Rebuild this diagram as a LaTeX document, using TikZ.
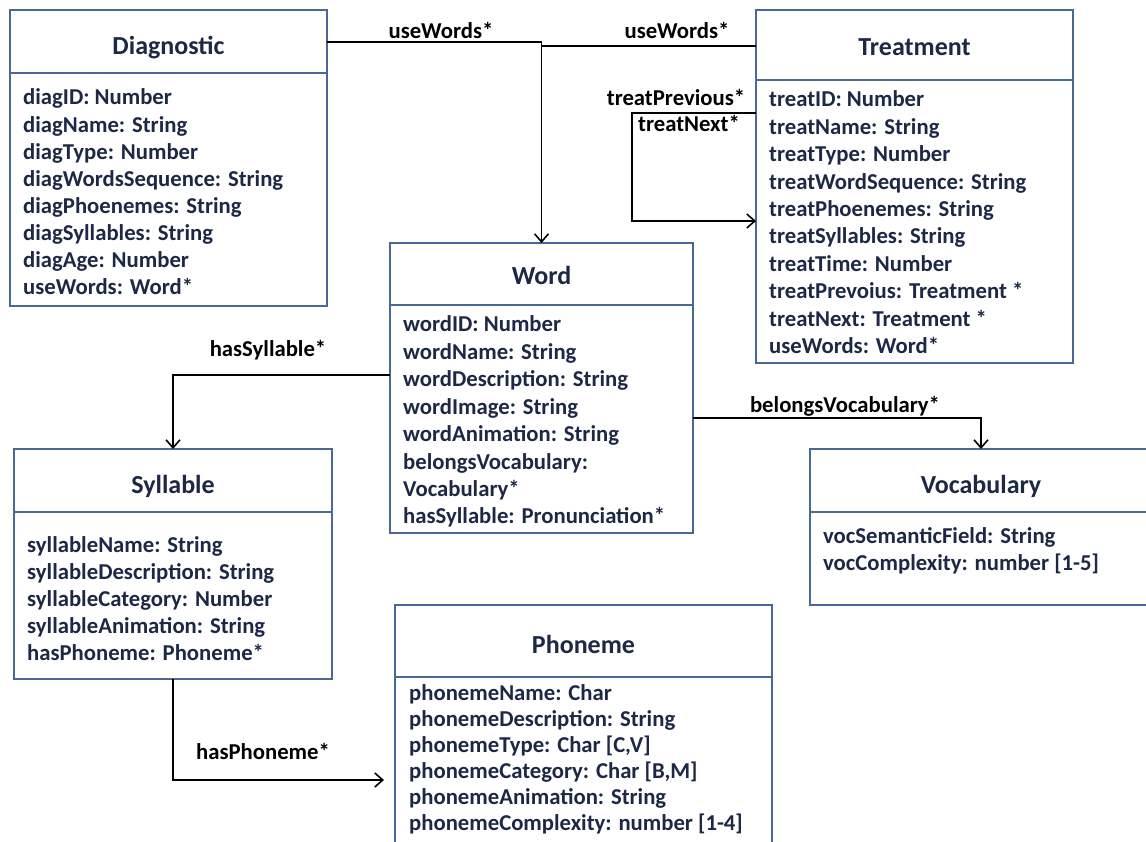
\documentclass[tikz,border=0pt]{standalone}
\usepackage{fontspec}
\setmainfont{Carlito}
\usetikzlibrary{arrows.meta,calc}
\definecolor{boxblue}{RGB}{74,104,148}
\definecolor{inkblue}{RGB}{28,40,70}
\begin{document}
\begin{tikzpicture}[x=1pt,y=-1pt,
  classbox/.style={draw=boxblue,line width=2.2pt,inner sep=0pt,outer sep=0pt,anchor=north west},
  divider/.style={draw=boxblue,line width=2.2pt},
  classtitle/.style={font=\bfseries\fontsize{26}{30}\selectfont,text=inkblue,anchor=base,inner sep=0pt},
  attr/.style={font=\bfseries\fontsize{22.7}{27}\selectfont,text=inkblue,anchor=base west,inner sep=0pt},
  assoc/.style={draw=black,line width=1.2pt},
  navarrow/.style={-{Straight Barb[length=8pt,width=14pt,line width=1.6pt]}},
  rolelabel/.style={font=\bfseries\fontsize{22.7}{27}\selectfont,text=black,inner sep=0pt,anchor=base}
]
\useasboundingbox (0,0) rectangle (1146,842);
\clip (0,0) rectangle (1146,842);
\fill[white] (0,0) rectangle (1146,842);

% ---------- Diagnostic ----------
\node[classbox,minimum width=317pt,minimum height=296pt] (diag) at (10,10) {};
\draw[divider] ($(diag.north west)+(0,63)$) -- ($(diag.north east)+(0,63)$);
\node[classtitle] (diagTitle) at (168.5,55) {Diagnostic};
\foreach \a [count=\i] in {diagID: Number, diagName: String, diagType: Number,
  diagWordsSequence: String, diagPhoenemes: String, diagSyllables: String,
  diagAge: Number, useWords: Word*}
  \node[attr] (diag-\i) at (23,{105+(\i-1)*27.1}) {\a};

% ---------- Treatment ----------
\node[classbox,minimum width=317pt,minimum height=353pt] (treat) at (756,10) {};
\draw[divider] ($(treat.north west)+(0,70)$) -- ($(treat.north east)+(0,70)$);
\node[classtitle] (treatTitle) at (914.5,56) {Treatment};
\foreach \a [count=\i] in {treatID: Number, treatName: String, treatType: Number,
  treatWordSequence: String, treatPhoenemes: String, treatSyllables: String,
  treatTime: Number, treatPrevoius: Treatment *, treatNext: Treatment *,
  useWords: Word*}
  \node[attr] (treat-\i) at (769,{107+(\i-1)*27.4}) {\a};

% ---------- Word ----------
\node[classbox,minimum width=303pt,minimum height=290pt] (word) at (390,243) {};
\draw[divider] ($(word.north west)+(0,62)$) -- ($(word.north east)+(0,62)$);
\node[classtitle] (wordTitle) at (541.5,285) {Word};
\foreach \a [count=\i] in {wordID: Number, wordName: String, wordDescription: String,
  wordImage: String, wordAnimation: String, belongsVocabulary:, Vocabulary*,
  hasSyllable: Pronunciation*}
  \node[attr] (word-\i) at (403,{332+(\i-1)*27.4}) {\a};

% ---------- Syllable ----------
\node[classbox,minimum width=318pt,minimum height=230pt] (syl) at (14,449) {};
\draw[divider] ($(syl.north west)+(0,63)$) -- ($(syl.north east)+(0,63)$);
\node[classtitle] (sylTitle) at (173,493) {Syllable};
\foreach \a [count=\i] in {syllableName: String, syllableDescription: String,
  syllableCategory: Number, syllableAnimation: String, hasPhoneme: Phoneme*}
  \node[attr] (syl-\i) at (27,{552+(\i-1)*27}) {\a};

% ---------- Vocabulary ----------
\node[classbox,minimum width=342pt,minimum height=156pt] (voc) at (810,449) {};
\draw[divider] ($(voc.north west)+(0,63)$) -- ($(voc.north east)+(0,63)$);
\node[classtitle] (vocTitle) at (981,493) {Vocabulary};
\foreach \a [count=\i] in {vocSemanticField: String, vocComplexity: number [1-5]}
  \node[attr] (voc-\i) at (823,{543+(\i-1)*27}) {\a};

% ---------- Phoneme ----------
\node[classbox,minimum width=377pt,minimum height=260pt] (phon) at (395,605) {};
\draw[divider] ($(phon.north west)+(0,72)$) -- ($(phon.north east)+(0,72)$);
\node[classtitle] (phonTitle) at (583.5,653) {Phoneme};
\foreach \a [count=\i] in {phonemeName: Char, phonemeDescription: String,
  {phonemeType: Char [C,V]}, {phonemeCategory: Char [B,M]},
  phonemeAnimation: String, phonemeComplexity: number [1-4]}
  \node[attr] (phon-\i) at (409,{700+(\i-1)*26}) {\a};

% ---------- Associations ----------
\draw[assoc,navarrow] ($(diag.north east)+(0,32)$) -| (word.north);
\draw[assoc] ($(treat.north west)+(0,36)$) -- ($(word.north)+(0,-197)$);
\draw[assoc,navarrow] ($(treat.north west)+(0,103)$) -- ++(-124,0)
  |- ($(treat.north west)+(0,211)$);
\draw[assoc,navarrow] ($(word.north west)+(0,132)$) -| (syl.north);
\draw[assoc,navarrow] ($(word.north east)+(0,175)$) -| (voc.north);
\draw[assoc,navarrow] (syl.south) |- ($(phon.north west)+(-11,175)$);

% ---------- Role labels ----------
\node[rolelabel] (lblDiagWords) at (441,39) {useWords*};
\node[rolelabel] (lblTreatWords) at (677,39) {useWords*};
\node[rolelabel] (lblPrev) at (676,106) {treatPrevious*};
\node[rolelabel] (lblNext) at (689,132) {treatNext*};
\node[rolelabel] (lblSyl) at (268,356) {hasSyllable*};
\node[rolelabel] (lblVoc) at (845,412) {belongsVocabulary*};
\node[rolelabel] (lblPhon) at (263,759) {hasPhoneme*};
\end{tikzpicture}
\end{document}
